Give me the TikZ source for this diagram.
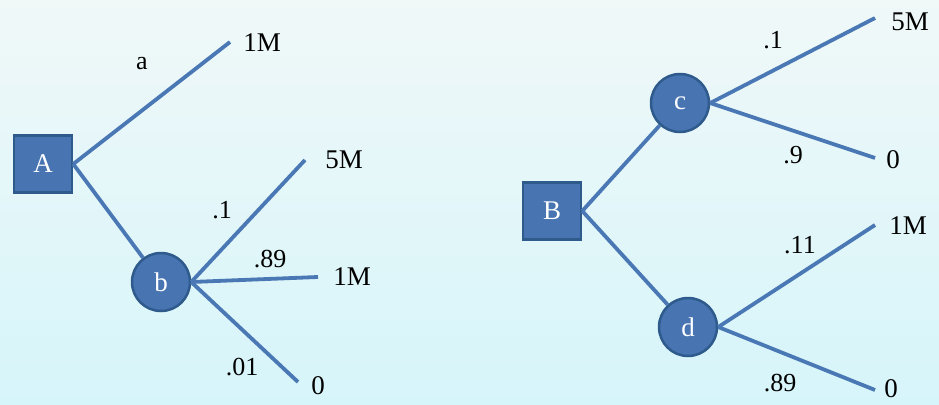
\documentclass[tikz,border=0pt]{standalone}
\usepackage{fontspec}
\setmainfont{Liberation Serif}
\begin{document}
\begin{tikzpicture}[x=1pt,y=-1pt,
  bg/.style={top color=bgtop,bottom color=bgbot,draw=none},
  decbox/.style={rectangle,fill=nodefill,draw=nodeedge,line width=2.5pt,minimum width=58pt,minimum height=57pt,inner sep=0pt,text=white,font=\fontsize{27}{29}\selectfont},
  chance/.style={circle,fill=nodefill,draw=nodeedge,line width=2.5pt,minimum size=58pt,inner sep=0pt,text=white,font=\fontsize{27}{29}\selectfont},
  branch/.style={draw=linecol,line width=3.8pt},
  outc/.style={font=\fontsize{27}{29}\selectfont,text=black,inner sep=0pt},
  prob/.style={font=\fontsize{26}{28}\selectfont,text=black,inner sep=0pt}]
\definecolor{bgtop}{HTML}{F0F8F8}
\definecolor{bgbot}{HTML}{D6F5FA}
\definecolor{nodefill}{HTML}{4874B2}
\definecolor{nodeedge}{HTML}{2E5A8C}
\definecolor{linecol}{HTML}{4A78B4}
\path[bg] (0,0) rectangle (939,404);
\useasboundingbox (0,0) rectangle (939,404);
% left tree
\node[decbox] (A) at (43,164) {A};
\node[chance] (b) at (161,282) {b};
\coordinate (e1) at (230,42);
\coordinate (e2) at (305,160);
\coordinate (e3) at (318,277);
\coordinate (e4) at (298,382);
\draw[branch] (A.east) -- (e1);
\draw[branch] (A.east) -- (b);
\draw[branch] (b.east) -- (e2);
\draw[branch] (b.east) -- (e3);
\draw[branch] (b.east) -- (e4);
\node[outc] (o1) at (262,43) {1M};
\node[outc] (o2) at (344,160) {5M};
\node[outc] (o3) at (352,277) {1M};
\node[outc] (o4) at (318,386) {0};
\node[prob] (pa) at (142,64) {a};
\node[prob] (p1) at (222,210) {.1};
\node[prob] (p2) at (270,259) {.89};
\node[prob] (p3) at (242,367) {.01};
% right tree
\node[decbox] (B) at (552,211) {B};
\node[chance] (c) at (680,103) {c};
\node[chance] (d) at (688,327) {d};
\coordinate (f1) at (875,18);
\coordinate (f2) at (875,158);
\coordinate (f3) at (875,225);
\coordinate (f4) at (875,390);
\draw[branch] (B.east) -- (c);
\draw[branch] (B.east) -- (d);
\draw[branch] (c.east) -- (f1);
\draw[branch] (c.east) -- (f2);
\draw[branch] (d.east) -- (f3);
\draw[branch] (d.east) -- (f4);
\node[outc] (q1) at (910,22) {5M};
\node[outc] (q2) at (893,160) {0};
\node[outc] (q3) at (908,226) {1M};
\node[outc] (q4) at (891,389) {0};
\node[prob] (r1) at (773,40) {.1};
\node[prob] (r2) at (793,155) {.9};
\node[prob] (r3) at (800,245) {.11};
\node[prob] (r4) at (780,383) {.89};
\end{tikzpicture}
\end{document}
